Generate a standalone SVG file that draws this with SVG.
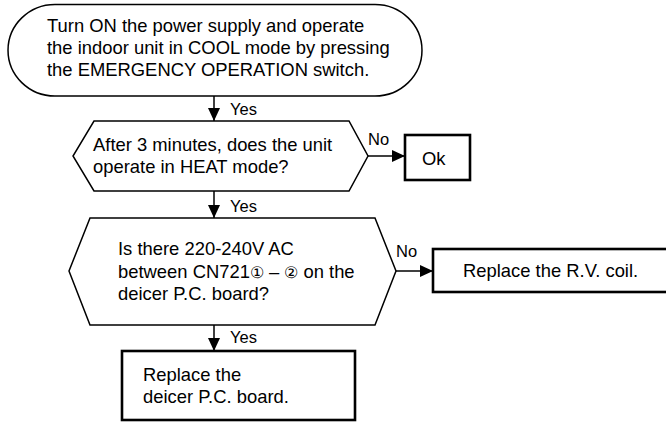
<svg xmlns="http://www.w3.org/2000/svg" width="666" height="424" viewBox="0 0 666 424">
<style>
.t{font-family:"Liberation Sans",Arial,sans-serif;font-size:18.4px;fill:#000}
.l{font-family:"Liberation Sans",Arial,sans-serif;font-size:16.5px;fill:#000}
.cd{font-size:15.5px}
.s{fill:#fff;stroke:#000;stroke-width:1.5}
.b{fill:#fff;stroke:#000;stroke-width:2.6}
.c{stroke:#000;stroke-width:1.5;fill:none}
</style>
<defs>
<marker id="ah" markerUnits="userSpaceOnUse" markerWidth="13" markerHeight="12" refX="13" refY="6" orient="auto">
<path d="M0,0 L13,6 L0,12 Z" fill="#000"/>
</marker>
</defs>
<rect width="666" height="424" fill="#fff"/>
<g id="start">
<path class="s" d="M55,4.5 H375 A47,45.75 0 0 1 375,96 H55 A47,45.75 0 0 1 55,4.5 Z"/>
<text class="t" x="47" y="32">Turn ON the power supply and operate</text>
<text class="t" x="47" y="54">the indoor unit in COOL mode by pressing</text>
<text class="t" x="47" y="76">the EMERGENCY OPERATION switch.</text>
</g>
<g id="q1">
<path class="s" d="M94,121 H349 L368,156 L349,191 H94 L73,156 Z"/>
<text class="t" x="93" y="151">After 3 minutes, does the unit</text>
<text class="t" x="93" y="173">operate in HEAT mode?</text>
</g>
<g id="ok">
<rect class="b" x="405" y="135" width="65" height="45"/>
<text class="t" x="422" y="165">Ok</text>
</g>
<g id="q2">
<path class="s" d="M90,218 H375 L396,271 L375,325 H90 L69,271 Z"/>
<text class="t" x="118" y="255">Is there 220-240V AC</text>
<text class="t" x="118" y="278">between CN721<tspan class="cd">①</tspan> – <tspan class="cd">②</tspan> on the</text>
<text class="t" x="118" y="300">deicer P.C. board?</text>
</g>
<g id="rv">
<rect class="b" x="433" y="249" width="240" height="43"/>
<text class="t" x="463" y="277">Replace the R.V. coil.</text>
</g>
<g id="pcb">
<rect class="b" x="122" y="351" width="233" height="69"/>
<text class="t" x="143" y="381">Replace the</text>
<text class="t" x="143" y="403">deicer P.C. board.</text>
</g>
<g id="connectors">
<line class="c" x1="214" y1="96" x2="214" y2="121" marker-end="url(#ah)"/>
<text class="l" x="230" y="115">Yes</text>
<line class="c" x1="368" y1="156" x2="405" y2="156" marker-end="url(#ah)"/>
<text class="l" x="368" y="145">No</text>
<line class="c" x1="214" y1="191" x2="214" y2="218" marker-end="url(#ah)"/>
<text class="l" x="230" y="212">Yes</text>
<line class="c" x1="396" y1="271" x2="433" y2="271" marker-end="url(#ah)"/>
<text class="l" x="396" y="257">No</text>
<line class="c" x1="214" y1="325" x2="214" y2="351" marker-end="url(#ah)"/>
<text class="l" x="230" y="343">Yes</text>
</g>
</svg>
